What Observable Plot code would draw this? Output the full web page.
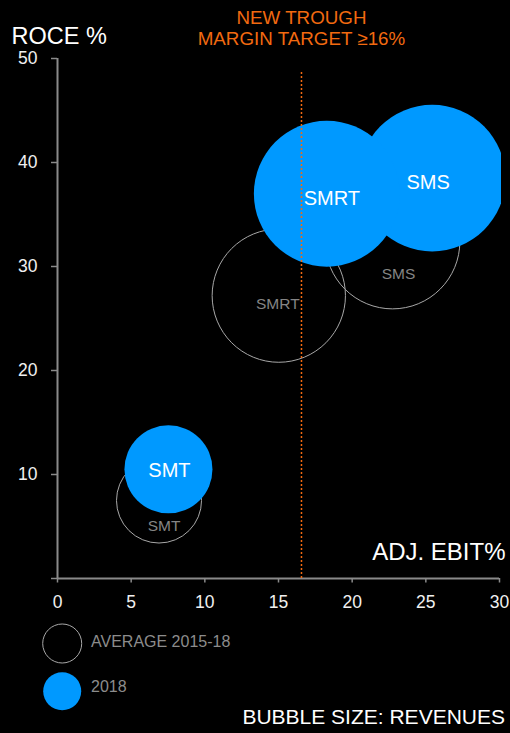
<!DOCTYPE html>
<html>
<head>
<meta charset="utf-8">
<script src="https://cdn.jsdelivr.net/npm/d3@7"></script>
<script src="https://cdn.jsdelivr.net/npm/@observablehq/plot@0.6"></script>
<style>
  html, body { margin: 0; padding: 0; background: #000; }
  #chart { width: 510px; height: 733px; overflow: hidden; }
</style>
</head>
<body>
<div id="chart"></div>
<script>
// Business segments
const segments = ["SMT", "SMRT", "SMS"];

// Average 2015-18: adjusted EBIT margin %, ROCE %, revenues
const avgEbit = [6.89, 15.02, 22.74];
const avgRoce = [7.5, 27.2, 32.4];
const avgRevenue = [14.0, 34.4, 35.1];

// 2018: adjusted EBIT margin %, ROCE %, revenues
const ebit2018 = [7.53, 18.28, 25.43];
const roce2018 = [10.5, 37.0, 38.5];
const revenue2018 = [15.0, 41.2, 41.6];

// New trough margin target line
const marginTarget = [16.56];

// Axis ticks
const xTicks = [0, 5, 10, 15, 20, 25, 30];
const yTicks = [0, 10, 20, 30, 40, 50];

const legendLabels = ["AVERAGE 2015-18", "2018"];

const avg = segments.map((s, i) => ({segment: s, ebit: avgEbit[i], roce: avgRoce[i], revenue: avgRevenue[i]}));
const current = segments.map((s, i) => ({segment: s, ebit: ebit2018[i], roce: roce2018[i], revenue: revenue2018[i]}));

const BLUE = "#0099ff";
const ORANGE = "#f26a10";
const AXIS = "#8a8a8a";
const FONT = "'Liberation Sans', Arial, sans-serif";

// pixel nudges for the bubble labels
const avgLabelShift = {SMT: [5, 26], SMRT: [-1, 8], SMS: [6, 32]};
const curLabelShift = {SMT: [1, 1], SMRT: [5, 4.5], SMS: [-4, 4]};

const avgLabels = segments.map(s => Plot.text(avg.filter(d => d.segment === s), {
  x: "ebit", y: "roce", text: "segment",
  dx: avgLabelShift[s][0], dy: avgLabelShift[s][1],
  fill: "#858585", fontSize: 15.5
}));
const curLabels = segments.map(s => Plot.text(current.filter(d => d.segment === s), {
  x: "ebit", y: "roce", text: "segment",
  dx: curLabelShift[s][0], dy: curLabelShift[s][1],
  fill: "#ffffff", fontSize: 20
}));

const chart = Plot.plot({
  width: 510,
  height: 733,
  marginTop: 58,
  marginBottom: 155,
  marginLeft: 57,
  marginRight: 9,
  style: {background: "#000", color: "#fff", fontFamily: FONT},
  x: {domain: [0, 30], range: [57, 499]},
  y: {domain: [0, 50]},
  r: {domain: [0, 41.6], range: [0, 73.3]},
  marks: [
    // axes
    Plot.axisY({ticks: yTicks, tickFormat: d => d === 0 ? "" : d, tickSize: 6, tickPadding: 14,
      stroke: AXIS, strokeWidth: 1.5, fill: "#f0f0f0", fontSize: 17.5, label: null}),
    Plot.axisX({ticks: xTicks, tickSize: 4.5, tickPadding: 12.5,
      stroke: AXIS, strokeWidth: 1.5, fill: "#f0f0f0", fontSize: 17.5, label: null}),
    Plot.ruleX([0], {y1: 0, y2: 50, stroke: AXIS, strokeWidth: 2}),
    Plot.ruleY([0], {x1: 0, x2: 30, stroke: AXIS, strokeWidth: 2}),

    // average 2015-18 bubbles
    Plot.dot(avg, {x: "ebit", y: "roce", r: "revenue", stroke: "#a8a8a8", strokeWidth: 1, fill: "none"}),
    ...avgLabels,

    // 2018 bubbles
    Plot.dot(current, {x: "ebit", y: "roce", r: "revenue", fill: BLUE, clip: "frame"}),
    ...curLabels,

    // margin target
    Plot.ruleX(marginTarget, {x: d => d, insetTop: 14, stroke: ORANGE, strokeWidth: 1.5, strokeDasharray: "2,2"}),
    Plot.text(marginTarget, {x: d => d, frameAnchor: "top", dy: -49.6, lineAnchor: "top",
      text: () => "NEW TROUGH\nMARGIN TARGET ≥16%", lineHeight: 1.13, fill: ORANGE, fontSize: 18.8}),

    // axis titles
    Plot.text(["ROCE %"], {text: d => d, frameAnchor: "top-left", textAnchor: "start",
      dx: -46, dy: -31.5, fontSize: 23.5, fill: "#fff"}),
    Plot.text(["ADJ. EBIT%"], {text: d => d, frameAnchor: "bottom-right", textAnchor: "end",
      dx: 4, dy: -19, fontSize: 24, fill: "#fff"}),

    // legend
    Plot.dot([legendLabels[0]], {frameAnchor: "bottom-left", dx: 4.7, dy: 65, r: 19.5,
      stroke: "#a8a8a8", strokeWidth: 1, fill: "none"}),
    Plot.dot([legendLabels[1]], {frameAnchor: "bottom-left", dx: 4.7, dy: 112.8, r: 19, fill: BLUE}),
    Plot.text([legendLabels[0]], {text: d => d, frameAnchor: "bottom-left", textAnchor: "start",
      dx: 33.5, dy: 68.9, fontSize: 16, fill: "#8c8c8c"}),
    Plot.text([legendLabels[1]], {text: d => d, frameAnchor: "bottom-left", textAnchor: "start",
      dx: 33.5, dy: 113.6, fontSize: 16, fill: "#8c8c8c"}),

    // caption
    Plot.text(["BUBBLE SIZE: REVENUES"], {text: d => d, frameAnchor: "bottom-right", textAnchor: "end",
      dx: 3.5, dy: 145.6, fontSize: 21, fill: "#fff"})
  ]
});

document.getElementById("chart").appendChild(chart);
</script>
</body>
</html>
